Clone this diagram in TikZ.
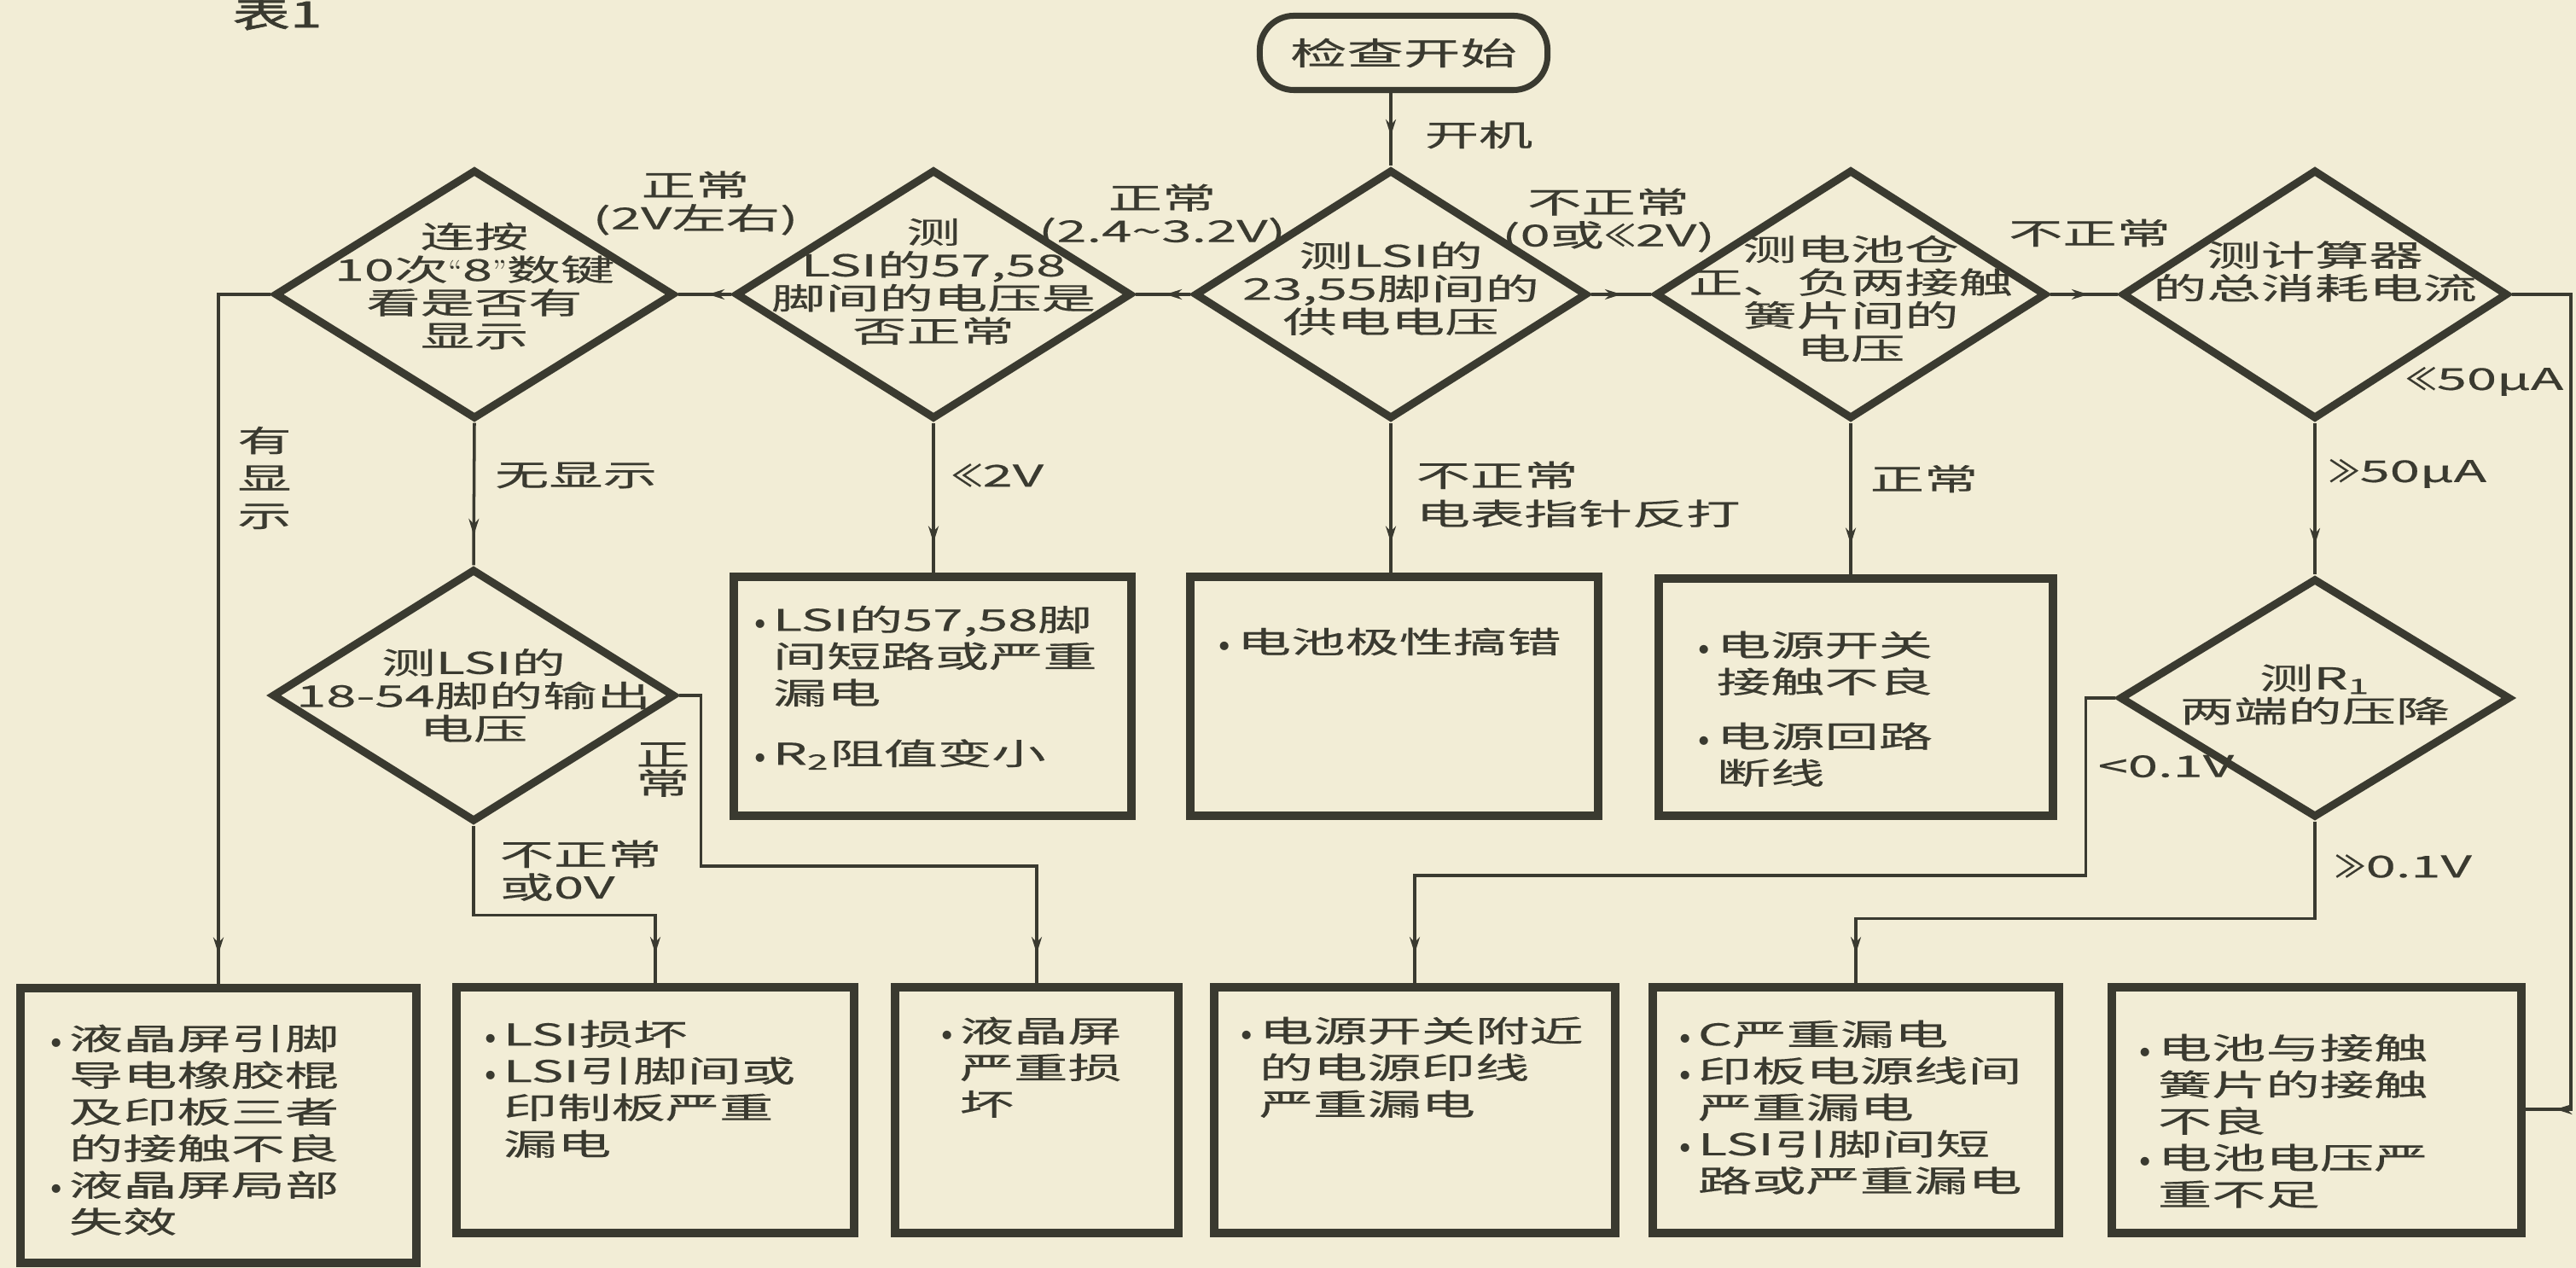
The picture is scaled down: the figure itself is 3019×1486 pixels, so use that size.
\documentclass[tikz,border=0pt]{standalone}
\usepackage{fontspec}
\newfontfamily\cjk[FakeStretch=1.8,FakeBold=0.4]{Noto Sans CJK SC}
\newfontfamily\cjkn[FakeStretch=1.05,FakeBold=0.4]{Noto Sans CJK SC}
\newfontfamily\cjkb[FakeStretch=1.6,FakeBold=1.5]{Noto Sans CJK SC}
\usetikzlibrary{shapes.geometric,arrows.meta,decorations.markings}
\definecolor{paper}{RGB}{242,237,214}
\definecolor{ink}{RGB}{58,58,48}
\newcommand\bul{\makebox[0.8em][l]{\normalfont\textbullet}}
\newcommand\hng{\hspace*{0.8em}}
\newcommand\LLs{{\cjkn ≪}}
\newcommand\GGs{{\cjkn ≫}}
\newcommand\qL{{\normalfont\textquotedblleft}}
\newcommand\qR{{\normalfont\textquotedblright}}
\begin{document}
\begin{tikzpicture}[x=0.01cm,y=-0.01cm,
  dia/.style={shape=diamond,draw=ink,line width=2.6pt,inner sep=0pt},
  boxs/.style={shape=rectangle,draw=ink,line width=2.8pt,inner sep=0pt},
  txt/.style={font=\cjk\fontsize{10pt}{11pt}\selectfont,text=ink,inner sep=0pt,align=center},
  btxt/.style={font=\cjk\fontsize{10pt}{12.2pt}\selectfont,text=ink,inner sep=0pt,align=left,anchor=north west},
  lbl/.style={txt},
  con/.style={draw=ink,line width=1pt},
  arr/.style={con,postaction={decorate},decoration={markings,mark=at position -0.35cm with {\arrow{Stealth[length=5.5pt,width=3.4pt]}}}}
]
\fill[paper] (0,0) rectangle (3019,1486);
\useasboundingbox (0,0) rectangle (3019,1486);

% title
\node[txt,font=\cjkb\fontsize{12pt}{13pt}\selectfont] (title) at (325,16) {表1};

% start
\node[txt,draw=ink,line width=2pt,rounded corners=0.4cm,minimum width=3.37cm,minimum height=0.87cm,font=\cjk\fontsize{10.5pt}{12pt}\selectfont] (start) at (1645,62) {检查开始};

% diamonds
\node[dia,minimum width=4.68cm,minimum height=2.92cm] (d1) at (556,345) {};
\node[dia,minimum width=4.64cm,minimum height=2.92cm] (d2) at (1094,345) {};
\node[dia,minimum width=4.60cm,minimum height=2.92cm] (d3) at (1630,345) {};
\node[dia,minimum width=4.58cm,minimum height=2.92cm] (d5) at (2169,345) {};
\node[dia,minimum width=4.52cm,minimum height=2.92cm] (d6) at (2713,345) {};
\node[dia,minimum width=4.72cm,minimum height=2.96cm] (d4) at (555,815) {};
\node[dia,minimum width=4.58cm,minimum height=2.80cm] (d7) at (2713,818) {};

\node[txt] (d1t) at (556,335) {连按\\10次\qL 8\qR 数键\\看是否有\\显示};
\node[txt] (d2t) at (1094,330) {测\\LSI的57,58\\脚间的电压是\\否正常};
\node[txt] (d3t) at (1630,338) {测LSI的\\23,55脚间的\\供电电压};
\node[txt] (d4t) at (555,815) {测LSI的\\18-54脚的输出\\电压};
\node[txt] (d5t) at (2169,350) {测电池仓\\正、负两接触\\簧片间的\\电压};
\node[txt] (d6t) at (2713,318) {测计算器\\的总消耗电流};
\node[txt] (d7t) at (2713,814) {测R\textsubscript{1}\\两端的压降};

% boxes
\node[boxs,minimum width=4.66cm,minimum height=2.80cm] (b4) at (1093,816) {};
\node[boxs,minimum width=4.77cm,minimum height=2.80cm] (b5) at (1634,816) {};
\node[boxs,minimum width=4.62cm,minimum height=2.78cm] (b6) at (2175,817) {};
\node[boxs,minimum width=4.64cm,minimum height=3.22cm] (b1) at (256,1319) {};
\node[boxs,minimum width=4.66cm,minimum height=2.87cm] (b2) at (768,1301) {};
\node[boxs,minimum width=3.31cm,minimum height=2.87cm] (b3) at (1215,1301) {};
\node[boxs,minimum width=4.69cm,minimum height=2.87cm] (b7) at (1658,1301) {};
\node[boxs,minimum width=4.75cm,minimum height=2.87cm] (b8) at (2175,1301) {};
\node[boxs,minimum width=4.80cm,minimum height=2.87cm] (b9) at (2715,1301) {};

\node[btxt] (b4t) at (877,709) {\bul LSI的57,58脚\\\hng 间短路或严重\\\hng 漏电\\[8pt]\bul R\textsubscript{2}阻值变小};
\node[btxt] (b5t) at (1421,735) {\bul 电池极性搞错};
\node[btxt] (b6t) at (1983,739) {\bul 电源开关\\\hng 接触不良\\[6pt]\bul 电源回路\\\hng 断线};
\node[btxt] (b1t) at (52,1200) {\bul 液晶屏引脚\\\hng 导电橡胶棍\\\hng 及印板三者\\\hng 的接触不良\\\bul 液晶屏局部\\\hng 失效};
\node[btxt] (b2t) at (561,1195) {\bul LSI损坏\\\bul LSI引脚间或\\\hng 印制板严重\\\hng 漏电};
\node[btxt] (b3t) at (1096,1191) {\bul 液晶屏\\\hng 严重损\\\hng 坏};
\node[btxt] (b7t) at (1447,1191) {\bul 电源开关附近\\\hng 的电源印线\\\hng 严重漏电};
\node[btxt] (b8t) at (1961,1195) {\bul C严重漏电\\\bul 印板电源线间\\\hng 严重漏电\\\bul LSI引脚间短\\\hng 路或严重漏电};
\node[btxt] (b9t) at (2500,1211) {\bul 电池与接触\\\hng 簧片的接触\\\hng 不良\\\bul 电池电压严\\\hng 重不足};

% labels
\node[lbl] (l0) at (1733,158) {开机};
\node[lbl] (l1) at (815,238) {正常\\(2V左右)};
\node[lbl] (l2) at (1362,253) {正常\\(2.4\textasciitilde3.2V)};
\node[lbl] (l3) at (1885,258) {不正常\\(0或\LLs 2V)};
\node[lbl] (l4) at (2449,273) {不正常};
\node[lbl,font=\cjk\fontsize{10pt}{12.5pt}\selectfont] (l5) at (310,560) {有\\显\\示};
\node[lbl] (l6) at (675,557) {无显示};
\node[lbl,anchor=west] (l7) at (1114,557) {\LLs 2V};
\node[lbl,align=left,anchor=north west,font=\cjk\fontsize{10pt}{12.8pt}\selectfont] (l8) at (1659,540) {不正常\\电表指针反打};
\node[lbl] (l9) at (2255,561) {正常};
\node[lbl,anchor=east] (l10) at (3005,447) {\LLs 50μA};
\node[lbl,anchor=west] (l11) at (2728,555) {\GGs 50μA};
\node[lbl,font=\cjk\fontsize{10pt}{9.6pt}\selectfont] (l12) at (777,902) {正\\常};
\node[lbl,align=left,anchor=north west] (l13) at (585,984) {不正常\\或0V};
\node[lbl,anchor=west] (l14) at (2458,898) {<0.1V};
\node[lbl,anchor=west] (l15) at (2735,1015) {\GGs 0.1V};

% connectors
\coordinate (rc) at (3013,1300);
\draw[arr] (d3.north |- start.south) -- (d3.north);
\draw[arr] (d3.west) -- (d2.east);
\draw[arr] (d2.west) -- (d1.east);
\draw[arr] (d3.east) -- (d5.west);
\draw[arr] (d5.east) -- (d6.west);
\draw[arr] (d1.west) -| (b1.north);
\draw[arr] (d1.south) -- (d4.north);
\draw[arr] (d2.south) -- (d2.south |- b4.north);
\draw[arr] (d3.south) -- (d3.south |- b5.north);
\draw[arr] (d5.south) -- (d5.south |- b6.north);
\draw[arr] (d6.south) -- (d7.north);
\draw[arr] (d4.south) -- ++(0,105) -| (b2.north);
\draw[arr] (d4.east) -- ++(26,0) -- ++(0,200) -| (b3.north);
\draw[arr] (d7.west) -- ++(-35,0) -- ++(0,208) -| (b7.north);
\draw[arr] (d7.south) -- ++(0,114) -| (b8.north);
\draw[arr] (d6.east) -| (rc) -- (b9.east |- rc);
\end{tikzpicture}
\end{document}
